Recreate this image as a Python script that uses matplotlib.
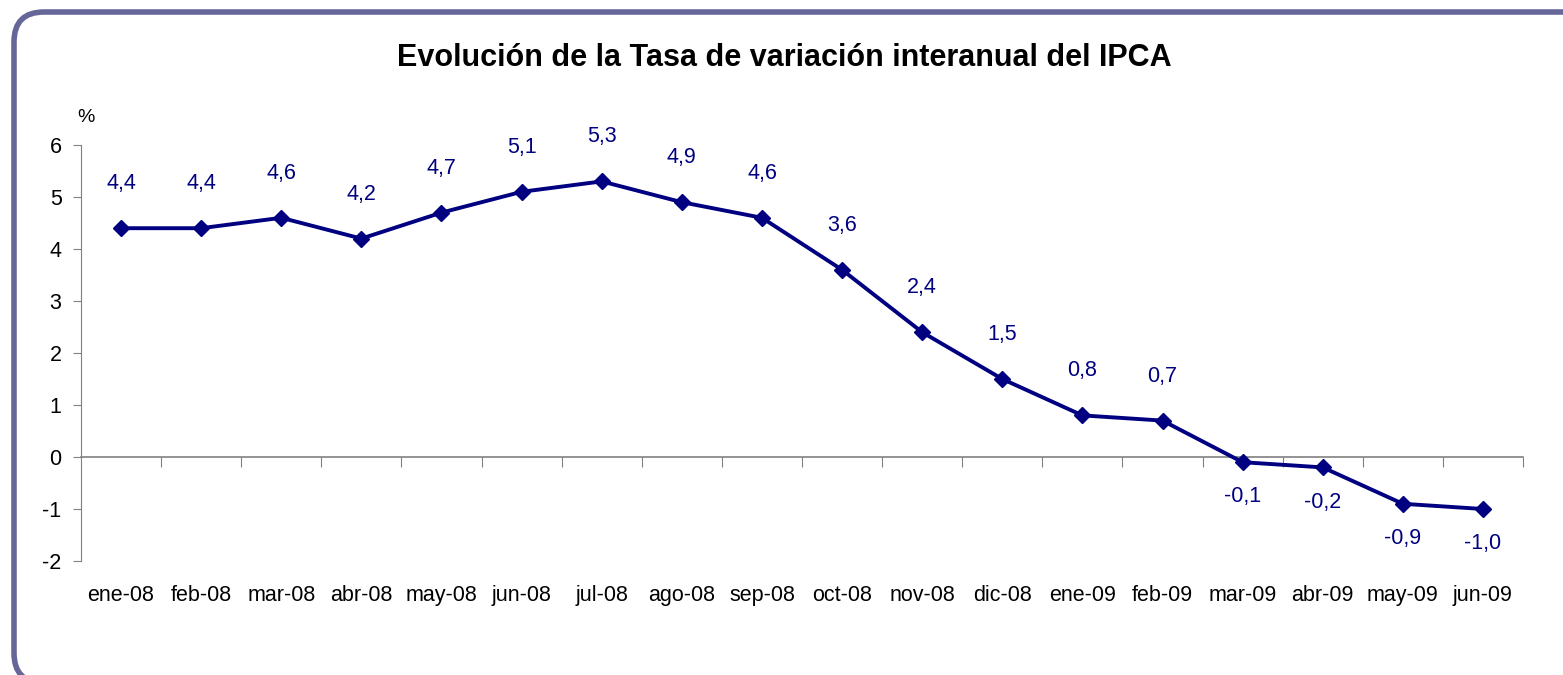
import matplotlib.pyplot as plt
from matplotlib.patches import FancyBboxPatch

# IPCA year-on-year rate, monthly
months = ['ene-08', 'feb-08', 'mar-08', 'abr-08', 'may-08', 'jun-08', 'jul-08', 'ago-08', 'sep-08',
          'oct-08', 'nov-08', 'dic-08', 'ene-09', 'feb-09', 'mar-09', 'abr-09', 'may-09', 'jun-09']
ipca = [4.4, 4.4, 4.6, 4.2, 4.7, 5.1, 5.3, 4.9, 4.6, 3.6, 2.4, 1.5, 0.8, 0.7, -0.1, -0.2, -0.9, -1.0]
yticks = [-2, -1, 0, 1, 2, 3, 4, 5, 6]

plt.rcParams['font.family'] = ['Liberation Sans', 'DejaVu Sans']
navy = '#000080'

fig = plt.figure(figsize=(15.63, 6.75), dpi=100)

# background frame in pixel coordinates
bg = fig.add_axes([0, 0, 1, 1])
bg.set_xlim(0, 1563)
bg.set_ylim(675, 0)
bg.axis('off')
frame = FancyBboxPatch((14, 12), 1600, 671, boxstyle='round,pad=0,rounding_size=30',
                       fc='white', ec='#666699', lw=4)
bg.add_patch(frame)
bg.text(784, 58, 'Evolución de la Tasa de variación interanual del IPCA', ha='center', va='center',
        fontsize=22, fontweight='bold')
bg.text(86, 118, '%', ha='center', va='center', fontsize=14)

ax = fig.add_axes([81 / 1563, 1 - 561 / 675, (1523 - 81) / 1563, (561 - 145) / 675])
ax.patch.set_alpha(0)
x = list(range(len(months)))
ax.plot(x, ipca, color=navy, lw=2.8, marker='D', ms=8.5, zorder=3)

for xi, v in zip(x, ipca):
    lab = ('%.1f' % v).replace('.', ',')
    if v >= 0:
        ax.annotate(lab, (xi, v), xytext=(0, 32), textcoords='offset points', ha='center',
                    va='center', fontsize=15.5, color=navy)
    else:
        ax.annotate(lab, (xi, v), xytext=(0, -25), textcoords='offset points', ha='center',
                    va='center', fontsize=15.5, color=navy)

ax.set_xlim(-0.5, len(months) - 0.5)
ax.set_ylim(-2, 6)
ax.set_yticks(yticks)
ax.set_yticklabels([str(t) for t in yticks], fontsize=15.5)

for s in ['top', 'right']:
    ax.spines[s].set_visible(False)
ax.spines['bottom'].set_position(('data', 0))
ax.spines['bottom'].set_color('#808080')
ax.spines['left'].set_color('#808080')
ax.spines['bottom'].set_linewidth(1.2)

ax.set_xticks([i + 0.5 for i in range(len(months))])
ax.set_xticklabels([])
ax.tick_params(axis='x', direction='out', length=7, color='#808080')
ax.tick_params(axis='y', direction='out', length=6, color='#808080', pad=8)

for xi, m in zip(x, months):
    ax.text(xi, -2.67, m, ha='center', va='center', fontsize=15.5)

plt.savefig('out.png', dpi=100)
